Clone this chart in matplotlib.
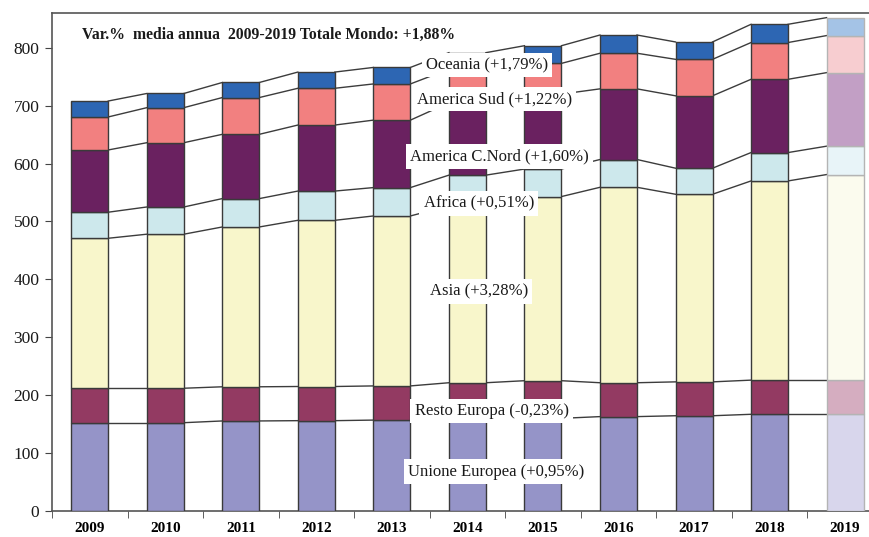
import numpy as np
import matplotlib
matplotlib.use("Agg")
import matplotlib.pyplot as plt

# ----- Dati (valori per area, milioni) -----
anni = ["2009", "2010", "2011", "2012", "2013", "2014", "2015", "2016", "2017", "2018", "2019"]

unione_europea = [152.5, 152.5, 155.5, 156, 157, 159, 160, 163, 164.5, 167, 167]
resto_europa = [59.5, 59.5, 59, 59, 59, 62.5, 65, 58.5, 58.5, 59, 59]
asia = [259, 266, 276, 287, 293.5, 305.5, 318, 337.5, 324, 344, 355]
africa = [45, 47, 49, 50.5, 49, 53, 47.5, 48, 45, 49, 49]
america_cnord = [107.5, 111, 111, 114, 116.5, 125, 129.5, 122, 125, 126.5, 127]
america_sud = [57, 60.5, 63.5, 63.5, 62.5, 58, 53, 61.5, 63, 63.5, 64]
oceania = [27.5, 24.5, 26, 28, 28.5, 28.5, 30.5, 31.5, 30, 31.5, 31]

etichette = ["Unione Europea (+0,95%)", "Resto Europa (-0,23%)", "Asia (+3,28%)",
             "Africa (+0,51%)", "America C.Nord (+1,60%)", "America Sud (+1,22%)",
             "Oceania (+1,79%)"]
titolo = "Var.%  media annua  2009-2019 Totale Mondo: +1,88%"

# ----- Colori -----
COL = ["#9594c8", "#933a62", "#f8f6cb", "#cde8ec", "#6a2160", "#f28080", "#2d66b3"]
COL_2019 = ["#d8d6ec", "#d5adc0", "#fbfbee", "#e8f4f8", "#c29fc5", "#f7cdd0", "#a4c3e6"]
EDGE = "#3a3a3a"
SERIF = ["Liberation Serif", "DejaVu Serif"]

serie = [unione_europea, resto_europa, asia, africa, america_cnord, america_sud, oceania]

fig = plt.figure(figsize=(8.7, 5.37), dpi=100)
ax = fig.add_axes([52 / 870, 26 / 537, 818 / 870, 498 / 537])

x = np.arange(len(anni))
w = 0.49
base = np.zeros(len(anni))
n = len(anni)
for k, vals in enumerate(serie):
    vals = np.array(vals, dtype=float)
    top = base + vals
    # anni storici
    ax.bar(x[:-1], vals[:-1], w, bottom=base[:-1], color=COL[k],
           edgecolor=EDGE, linewidth=1.0, zorder=3)
    # 2019 (stima, colori sbiaditi)
    ax.bar(x[-1:], vals[-1:], w, bottom=base[-1:], color=COL_2019[k],
           edgecolor="#b4b4b4", linewidth=1.0, zorder=3)
    # linee di collegamento tra le barre
    for i in range(n - 1):
        ax.plot([x[i] + w / 2, x[i + 1] - w / 2], [top[i], top[i + 1]],
                color="#3c3c3c", lw=1.0, zorder=2)
    base = top

# ----- Etichette con box bianco -----
pos_etichette = [(5.38, 68), (5.32, 173), (5.15, 379), (5.15, 531), (5.42, 612),
                 (5.36, 711), (5.26, 770)]
for testo, (px, py) in zip(etichette, pos_etichette):
    ax.text(px, py, testo, ha="center", va="center", fontsize=12,
            family=SERIF, color="#1a1a1a", zorder=5,
            bbox=dict(boxstyle="square,pad=0.25", fc="white", ec="none"))

ax.text(0.037, 0.956, titolo, transform=ax.transAxes, ha="left", va="center",
        fontsize=11.3, fontweight="bold", family=SERIF, color="#1a1a1a", zorder=6)

# ----- Assi -----
ax.set_yticks(range(0, 801, 100))
ax.set_xticks(x)
ax.set_xticklabels(anni, fontweight="bold", family=SERIF, fontsize=11)
ax.set_xticks(np.arange(-0.5, n - 1, 1.0), minor=True)
ax.set_xlim(-0.5, 10.33)
ax.set_ylim(0, 860)
ax.tick_params(axis="x", which="major", length=0, pad=8)
ax.tick_params(axis="x", which="minor", length=5, color="#444444", direction="out")
ax.tick_params(axis="y", length=5, color="#444444", direction="out", pad=4)
for lab in ax.get_yticklabels():
    lab.set_family(SERIF)
    lab.set_fontsize(12.5)
    lab.set_color("#1a1a1a")

for s in ["left", "bottom", "top"]:
    ax.spines[s].set_color("#555555")
    ax.spines[s].set_linewidth(1.2)
ax.spines["right"].set_visible(False)

fig.savefig("out.png", dpi=100)
